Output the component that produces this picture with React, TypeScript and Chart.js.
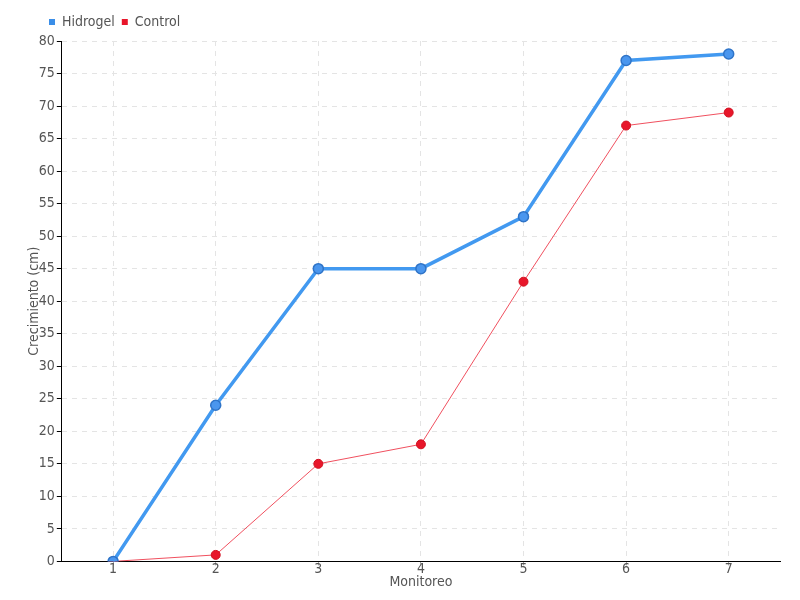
import React, { useEffect, useRef } from "react";
import { Chart, registerables } from "chart.js";

Chart.register(...registerables);

const categories = ["1", "2", "3", "4", "5", "6", "7"];
const hidrogel = [0, 24, 45, 45, 53, 77, 78];
const control = [0, 1, 15, 18, 43, 67, 69];

const FONT = "'DejaVu Sans Condensed', 'Liberation Sans Narrow', sans-serif";

const legendShift = {
  id: "legendShift",
  afterLayout(chart: any) {
    if (chart.legend) {
      chart.legend.left = 42;
      chart.legend.top -= 2;
    }
  },
};

export default function App() {
  const ref = useRef<HTMLCanvasElement | null>(null);
  useEffect(() => {
    document.body.style.margin = "0";
    if (!ref.current) return;
    const chart = new Chart(ref.current, {
      type: "line",
      plugins: [legendShift],
      data: {
        labels: categories,
        datasets: [
          {
            label: "Hidrogel",
            data: hidrogel,
            borderColor: "#4299f0",
            backgroundColor: "#3a8ee8",
            borderWidth: 3.5,
            pointRadius: 5,
            pointBorderColor: "#2f74c8",
            pointBackgroundColor: "#4a96ee",
            pointBorderWidth: 1.5,
            tension: 0,
          },
          {
            label: "Control",
            data: control,
            borderColor: "#f0505f",
            backgroundColor: "#e8162a",
            borderWidth: 1,
            pointRadius: 4.5,
            pointBorderColor: "#d0101f",
            pointBackgroundColor: "#e8162a",
            pointBorderWidth: 1,
            tension: 0,
          },
        ],
      },
      options: {
        animation: false,
        responsive: false,
        layout: { padding: { left: 26, right: 20, top: 10, bottom: 9 } },
        plugins: {
          legend: {
            position: "top",
            align: "start",
            labels: {
              boxWidth: 6,
              boxHeight: 6,
              padding: 7,
              color: "#555",
              font: { family: FONT, size: 14 },
              generateLabels: (c: any) =>
                c.data.datasets.map((d: any, i: number) => ({
                  text: d.label,
                  fillStyle: d.backgroundColor,
                  strokeStyle: d.backgroundColor,
                  lineWidth: 0,
                  fontColor: "#555",
                  hidden: !c.isDatasetVisible(i),
                  datasetIndex: i,
                })),
            },
          },
          tooltip: { enabled: false },
        },
        scales: {
          x: {
            offset: true,
            title: {
              display: true,
              text: "Monitoreo",
              color: "#555",
              font: { family: FONT, size: 14 },
              padding: { top: 0, bottom: 0 },
            },
            grid: {
              color: "#e4e4e4",
              tickColor: "#aaa",
              tickLength: 4,
              lineWidth: 1,
            },
            border: { color: "#000", width: 1, dash: [5, 5] },
            ticks: { color: "#555", font: { family: FONT, size: 14 }, padding: -4 },
          },
          y: {
            min: 0,
            max: 80,
            title: {
              display: true,
              text: "Crecimiento (cm)",
              color: "#555",
              font: { family: FONT, size: 14 },
              padding: { top: 0, bottom: -6 },
            },
            grid: {
              color: "#e4e4e4",
              tickColor: "#000",
              tickLength: 5,
              lineWidth: 1,
            },
            border: { color: "#000", width: 1, dash: [5, 5] },
            ticks: {
              stepSize: 5,
              color: "#555",
              font: { family: FONT, size: 14 },
              padding: 2,
            },
          },
        },
      },
    });
    return () => chart.destroy();
  }, []);
  return <canvas ref={ref} width={800} height={600} style={{ display: "block" }} />;
}
